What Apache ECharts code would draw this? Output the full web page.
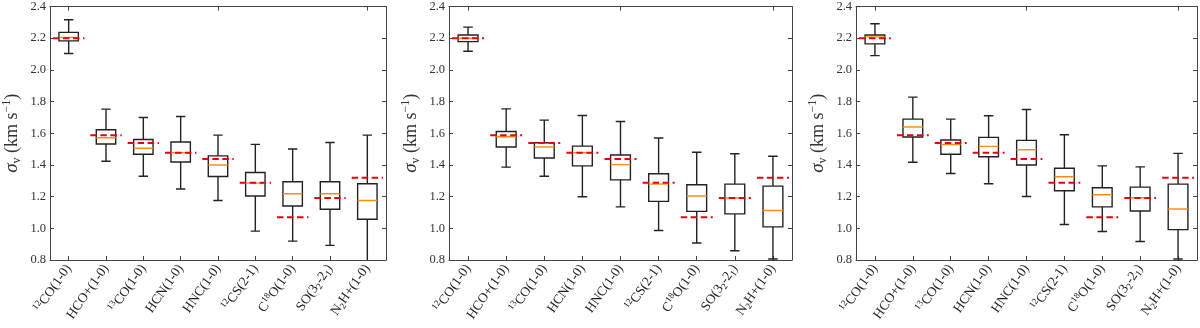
<!DOCTYPE html>
<html>
<head>
<meta charset="utf-8">
<script src="https://cdn.jsdelivr.net/npm/echarts@6/dist/echarts.min.js"></script>
<style>
  html, body { margin: 0; padding: 0; background: #fff; }
  #chart { width: 1200px; height: 328px; }
</style>
</head>
<body>
<div id="chart"></div>
<script>
// category labels (rich text markup for sub/superscripts)
var categories = [
  '{p|12}CO(1-0)', 'HCO+(1-0)', '{p|13}CO(1-0)', 'HCN(1-0)', 'HNC(1-0)',
  '{p|12}CS(2-1)', 'C{p|18}O(1-0)', 'SO(3{b|2}-2{b|1})', 'N{b|2}H+(1-0)'
]
// red dashed reference values, same in every panel
var refValues = [2.20, 1.587, 1.538, 1.477, 1.437, 1.288, 1.070, 1.192, 1.319]
// boxes: [min, q1, median, q3, max]
var boxesLeft = [
  [2.103, 2.183, 2.205, 2.237, 2.316],
  [1.423, 1.532, 1.572, 1.622, 1.752],
  [1.329, 1.467, 1.505, 1.561, 1.699],
  [1.248, 1.419, 1.478, 1.545, 1.706],
  [1.176, 1.327, 1.400, 1.457, 1.588],
  [0.982, 1.204, 1.285, 1.352, 1.530],
  [0.919, 1.141, 1.218, 1.294, 1.501],
  [0.892, 1.120, 1.218, 1.294, 1.542],
  [0.760, 1.057, 1.176, 1.281, 1.588]
]
var boxesMiddle = [
  [2.118, 2.178, 2.200, 2.220, 2.270],
  [1.386, 1.513, 1.578, 1.611, 1.754],
  [1.329, 1.444, 1.513, 1.540, 1.683],
  [1.199, 1.394, 1.478, 1.519, 1.712],
  [1.135, 1.306, 1.402, 1.463, 1.674],
  [0.986, 1.170, 1.279, 1.344, 1.570],
  [0.907, 1.107, 1.204, 1.275, 1.480],
  [0.858, 1.091, 1.191, 1.279, 1.471],
  [0.806, 1.009, 1.112, 1.266, 1.455]
]
var boxesRight = [
  [2.090, 2.164, 2.208, 2.220, 2.291],
  [1.417, 1.576, 1.639, 1.689, 1.828],
  [1.346, 1.467, 1.528, 1.557, 1.689],
  [1.281, 1.452, 1.517, 1.574, 1.710],
  [1.201, 1.400, 1.496, 1.555, 1.750],
  [1.024, 1.237, 1.325, 1.379, 1.591],
  [0.980, 1.135, 1.212, 1.256, 1.394],
  [0.917, 1.109, 1.193, 1.260, 1.388],
  [0.806, 0.992, 1.122, 1.279, 1.473]
]
var yMin = 0.8, yMax = 2.4, yStep = 0.2

var panels = [boxesLeft, boxesMiddle, boxesRight]
var grids = [
  { left: 43, top: 5, width: 343, height: 255 },
  { left: 449, top: 5, width: 343, height: 255 },
  { left: 856, top: 5, width: 341, height: 255 }
]

var font = 'Liberation Serif'
var ink = '#222'
var frame = '#444'

function renderBox(params, api) {
  var c = api.value(0)
  var band = api.size([1, 0])[0]
  var half = band * 0.26
  var cap = band * 0.125
  var pMin = api.coord([c, api.value(1)])
  var pQ1 = api.coord([c, api.value(2)])
  var pMed = api.coord([c, api.value(3)])
  var pQ3 = api.coord([c, api.value(4)])
  var pMax = api.coord([c, api.value(5)])
  var x = pMin[0]
  var st = { stroke: ink, lineWidth: 1.4, fill: null }
  return {
    type: 'group',
    children: [
      { type: 'line', shape: { x1: x, y1: pMin[1], x2: x, y2: pQ1[1] }, style: st },
      { type: 'line', shape: { x1: x, y1: pQ3[1], x2: x, y2: pMax[1] }, style: st },
      { type: 'line', shape: { x1: x - cap, y1: pMin[1], x2: x + cap, y2: pMin[1] }, style: st },
      { type: 'line', shape: { x1: x - cap, y1: pMax[1], x2: x + cap, y2: pMax[1] }, style: st },
      { type: 'rect', shape: { x: x - half, y: pQ3[1], width: half * 2, height: pQ1[1] - pQ3[1] },
        style: { stroke: ink, lineWidth: 1.4, fill: '#fff' } },
      { type: 'line', shape: { x1: x - half, y1: pMed[1], x2: x + half, y2: pMed[1] },
        style: { stroke: '#ff8c1a', lineWidth: 1.4 } }
    ]
  }
}

function renderRef(params, api) {
  var c = api.value(0)
  var band = api.size([1, 0])[0]
  var half = band * 0.42
  var p = api.coord([c, api.value(1)])
  return {
    type: 'line',
    shape: { x1: p[0] - half, y1: p[1], x2: p[0] + half, y2: p[1] },
    style: { stroke: '#e8000b', lineWidth: 2, lineDash: [6.5, 3.5] }
  }
}

var labelRich = {
  p: { fontFamily: font, fontSize: 9, color: ink, verticalAlign: 'top', lineHeight: 16 },
  b: { fontFamily: font, fontSize: 9, color: ink, verticalAlign: 'bottom', lineHeight: 16 }
}

var xAxes = [], yAxes = [], series = []
panels.forEach(function (boxes, g) {
  var tick = { show: true, inside: true, length: 4, alignWithLabel: true, lineStyle: { color: frame } }
  var line = { show: true, lineStyle: { color: frame, width: 1 } }
  xAxes.push({
    type: 'category', gridIndex: g, data: categories, position: 'bottom',
    axisLine: line, axisTick: tick, splitLine: { show: false },
    axisLabel: {
      rotate: 55, margin: 6, fontFamily: font, fontSize: 13.5, color: ink,
      lineHeight: 16, interval: 0, rich: labelRich
    }
  })
  xAxes.push({
    type: 'category', gridIndex: g, data: categories, position: 'top',
    axisLine: line, axisTick: tick, axisLabel: { show: false }, splitLine: { show: false }
  })
  yAxes.push({
    type: 'value', gridIndex: g, min: yMin, max: yMax, interval: yStep, position: 'left',
    axisLine: line, axisTick: { show: true, inside: true, length: 4, lineStyle: { color: frame } },
    splitLine: { show: false },
    axisLabel: {
      margin: 4, fontFamily: font, fontSize: 12.5, color: '#333',
      formatter: function (v) { return v.toFixed(1) }
    },
    name: '{g|σ}{s|v} (km s{u|−1})',
    nameLocation: 'middle', nameGap: 27,
    nameTextStyle: {
      fontFamily: font, fontSize: 18, color: '#333', lineHeight: 22,
      rich: {
        g: { fontFamily: font, fontSize: 19, fontStyle: 'italic', color: '#333', lineHeight: 22 },
        s: { fontFamily: font, fontSize: 12, color: '#333', verticalAlign: 'bottom', lineHeight: 22 },
        u: { fontFamily: font, fontSize: 12, color: '#333', verticalAlign: 'top', lineHeight: 22 }
      }
    }
  })
  yAxes.push({
    type: 'value', gridIndex: g, min: yMin, max: yMax, interval: yStep, position: 'right',
    axisLine: line, axisTick: { show: true, inside: true, length: 4, lineStyle: { color: frame } },
    axisLabel: { show: false }, splitLine: { show: false }
  })
  series.push({
    type: 'custom', xAxisIndex: g * 2, yAxisIndex: g * 2, clip: true,
    renderItem: renderBox,
    encode: { x: 0, y: [1, 2, 3, 4, 5] },
    data: boxes.map(function (b, i) { return [i].concat(b) }),
    z: 2
  })
  series.push({
    type: 'custom', xAxisIndex: g * 2, yAxisIndex: g * 2, clip: true,
    renderItem: renderRef,
    encode: { x: 0, y: 1 },
    data: refValues.map(function (v, i) { return [i, v] }),
    z: 3
  })
})

var chart = echarts.init(document.getElementById('chart'))
chart.setOption({
  animation: false,
  grid: grids,
  xAxis: xAxes,
  yAxis: yAxes,
  series: series
})
window.onresize = function () { chart.resize() }
</script>
</body>
</html>
